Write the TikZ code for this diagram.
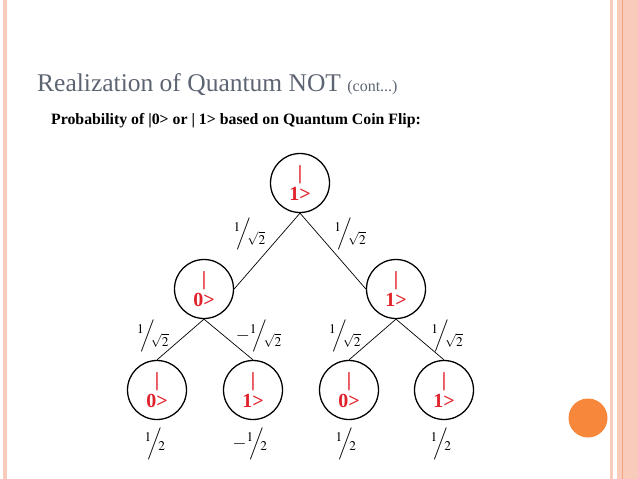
\documentclass[tikz,border=0pt]{standalone}
\usepackage{mathptmx}
\usepackage{fontspec}
\setmainfont{Liberation Serif}
\usetikzlibrary{positioning}
\definecolor{titlegray}{HTML}{5D6472}
\definecolor{stripepink}{HTML}{F9CBBB}
\definecolor{stripeline}{HTML}{F0A582}
\definecolor{dotorange}{HTML}{F7873A}
\definecolor{ketred}{HTML}{E0222A}
\newcommand{\qfrac}[2]{${}^{#1}\!\!\Big/\!\!{}_{#2}$}

\begin{document}
\begin{tikzpicture}[x=1pt, y=-1pt,
      statenode/.style={draw, circle, line width=1.3pt, minimum size=59pt,
        inner sep=0pt, align=center, text=ketred, text depth=0pt,
        font=\fontsize{20}{21}\selectfont\bfseries},
      amplabel/.style={inner sep=1pt, font=\fontsize{18}{18}\selectfont},
      branch/.style={line width=0.7pt}
    ]
      \useasboundingbox (0,0) rectangle (638,479);
      % slide decoration
      \fill[stripepink] (3,0) rectangle (7,479);
      \fill[stripepink] (610,0) rectangle (613,479);
      \fill[stripepink] (617,0) rectangle (638,479);
      \fill[stripeline] (621.5,0) rectangle (623,479);
      \fill[dotorange] (588,418) circle (19.5);
      % headings
      \node[anchor=base west, inner sep=0pt, text=titlegray,
        font=\fontsize{25.5}{26}\selectfont] (title) at (37,91)
        {Realization of Quantum NOT {\fontsize{16}{16}\selectfont (cont...)}};
      \node[anchor=base west, inner sep=0pt,
        font=\fontsize{15.8}{16}\selectfont\bfseries] (subtitle) at (51,124)
        {Probability of |0> or | 1> based on Quantum Coin Flip:};
      % tree
      \node[statenode] (root) at (300,183) {|\\1>};
      \node[statenode] (n0) at (204,289) {|\\0>};
      \node[statenode] (n1) at (396,289) {|\\1>};
      \node[statenode] (n00) at (157,390) {|\\0>};
      \node[statenode] (n01) at (253,390) {|\\1>};
      \node[statenode] (n10) at (349,390) {|\\0>};
      \node[statenode] (n11) at (444,390) {|\\1>};
      \draw[branch] (root.south) -- (n0.east)
        node[midway, above left, amplabel] {\qfrac{1}{\sqrt{2}}};
      \draw[branch] (root.south) -- (n1.west)
        node[midway, above right, amplabel] {\qfrac{1}{\sqrt{2}}};
      \draw[branch] (n0.south) -- (n00.north)
        node[midway, left=10pt, yshift=4pt, amplabel] {\qfrac{1}{\sqrt{2}}};
      \draw[branch] (n0.south) -- (n01.north)
        node[midway, right=6pt, yshift=4pt, amplabel] {$-$\qfrac{1}{\sqrt{2}}};
      \draw[branch] (n1.south) -- (n10.north)
        node[midway, left=10pt, yshift=4pt, amplabel] {\qfrac{1}{\sqrt{2}}};
      \draw[branch] (n1.south) -- (n11.north)
        node[midway, right=10pt, yshift=4pt, amplabel] {\qfrac{1}{\sqrt{2}}};
      % outcome amplitudes
      \node[amplabel, below=6pt of n00, xshift=-2pt] (p00) {\qfrac{1}{2}};
      \node[amplabel, below=6pt of n01, xshift=-3pt] (p01) {$-$\qfrac{1}{2}};
      \node[amplabel, below=6pt of n10, xshift=-3pt] (p10) {\qfrac{1}{2}};
      \node[amplabel, below=6pt of n11, xshift=-3pt] (p11) {\qfrac{1}{2}};
    \end{tikzpicture}
\end{document}
